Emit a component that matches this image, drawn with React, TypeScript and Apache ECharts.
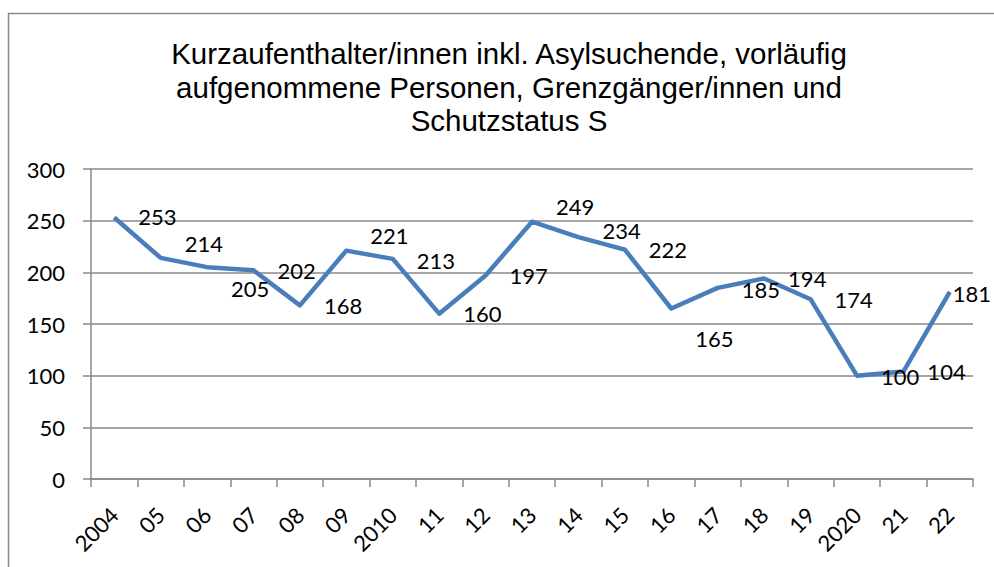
import React, { useEffect, useRef } from "react";
import * as echarts from "echarts";

const titleLines = [
  "Kurzaufenthalter/innen inkl. Asylsuchende, vorläufig",
  "aufgenommene Personen, Grenzgänger/innen und",
  "Schutzstatus S",
];

const years = [
  "2004", "05", "06", "07", "08", "09", "2010", "11", "12", "13",
  "14", "15", "16", "17", "18", "19", "2020", "21", "22",
];

const values = [
  253, 214, 205, 202, 168, 221, 213, 160, 197, 249,
  234, 222, 165, 185, 194, 174, 100, 104, 181,
];

const yTicks = { min: 0, max: 300, interval: 50 };

// label nudges (layout only), matched by index
const labelNudges: [number, number][] = [
  [0, -1], [0, -14], [0, 21], [0, 0], [0, 0], [0, -15], [0, 2], [0, 0], [0, 0], [0, -15],
  [0, -7], [0, 0], [0, 30], [0, 2], [0, 0], [0, 0], [0, 1], [0, 0], [-21, 2],
];

export default function App() {
  const ref = useRef<HTMLDivElement>(null);
  useEffect(() => {
    if (!ref.current) return;
    const chart = echarts.init(ref.current, null, { renderer: "svg" });
    const gray = "#898989";
    const labelFont = "Lato";
    const symbolSize = 2;
    chart.setOption({
      animation: false,
      backgroundColor: "#ffffff",
      title: {
        text: titleLines.join("\n"),
        left: 504,
        top: 32,
        textAlign: "center",
        textStyle: {
          fontFamily: "'Liberation Sans', Arial, sans-serif",
          fontSize: 29.5,
          fontWeight: "normal",
          color: "#000000",
          lineHeight: 33.5,
        },
      },
      graphic: [
        {
          type: "rect",
          shape: { x: 8.5, y: 13.5, width: 1100, height: 700 },
          style: { fill: "none", stroke: gray, lineWidth: 1.5 },
          silent: true,
          z: -1,
        },
      ],
      grid: { left: 91, right: 21, top: 169, bottom: 88, containLabel: false },
      xAxis: {
        type: "category",
        data: years,
        boundaryGap: true,
        axisLine: { lineStyle: { color: gray, width: 1.5 } },
        axisTick: { show: true, alignWithLabel: false, length: 8, lineStyle: { color: gray, width: 1.5 } },
        axisLabel: {
          rotate: 45,
          margin: 32,
          interval: 0,
          fontFamily: labelFont,
          fontSize: 22,
          color: "#000000",
        },
        splitLine: { show: false },
      },
      yAxis: {
        type: "value",
        min: yTicks.min,
        max: yTicks.max,
        interval: yTicks.interval,
        axisLine: { show: true, lineStyle: { color: gray, width: 1.5 } },
        axisTick: { show: true, length: 8, lineStyle: { color: gray, width: 1.5 } },
        axisLabel: {
          margin: 26,
          fontFamily: labelFont,
          fontSize: 22,
          color: "#000000",
        },
        splitLine: { show: true, lineStyle: { color: gray, width: 1.5 } },
      },
      series: [
        {
          type: "line",
          data: values.map((v, i) => ({
            value: v,
            label: {
              position: [symbolSize / 2 + 24 + labelNudges[i][0], symbolSize / 2 + labelNudges[i][1]],
              align: "left",
              verticalAlign: "middle",
            },
          })),
          showSymbol: true,
          symbol: "circle",
          symbolSize: symbolSize,
          lineStyle: { color: "#4A7EBB", width: 4.5, join: "round" },
          itemStyle: { color: "rgba(0,0,0,0)", borderWidth: 0 },
          label: {
            show: true,
            position: "right",
            distance: 24,
            fontFamily: labelFont,
            fontSize: 22,
            color: "#000000",
          },
          labelLayout: { hideOverlap: false },
        },
      ],
    });
    return () => chart.dispose();
  }, []);
  return (
    <div
      ref={ref}
      style={{ position: "fixed", left: 0, top: 0, width: 994, height: 567, background: "#fff" }}
    />
  );
}
